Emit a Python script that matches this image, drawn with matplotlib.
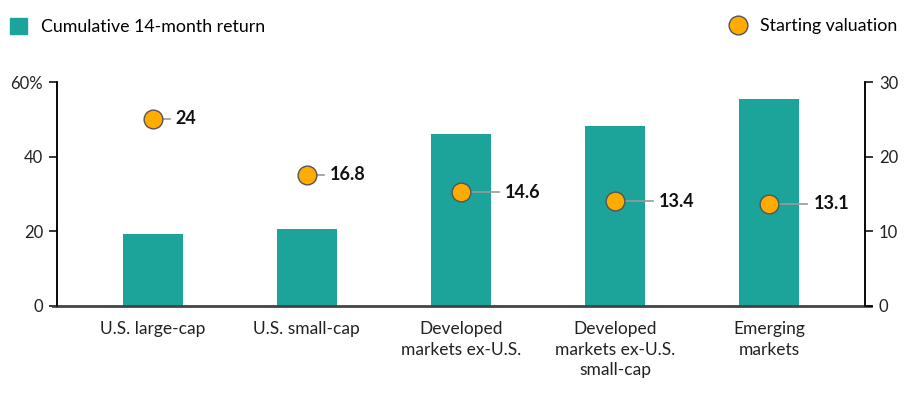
import matplotlib.pyplot as plt
from matplotlib.lines import Line2D
from matplotlib.patches import Patch

# Data
categories = ["U.S. large-cap", "U.S. small-cap", "Developed\nmarkets ex-U.S.",
              "Developed\nmarkets ex-U.S.\nsmall-cap", "Emerging\nmarkets"]
cum_return = [19.3, 20.6, 46.2, 48.1, 55.4]      # left axis, %
valuation = [24, 16.8, 14.6, 13.4, 13.1]         # right axis
val_labels = ["24", "16.8", "14.6", "13.4", "13.1"]

teal = "#1ca39a"
orange = "#ffab00"

plt.rcParams['font.family'] = ['Lato', 'DejaVu Sans']

fig = plt.figure(figsize=(9.13, 4.03), dpi=100)
ax1 = fig.add_axes([0.0624, 0.2407, 0.8850, 0.5558])
ax2 = ax1.twinx()
# the dots in the original sit on a slightly stretched scale (top ~28.7, not 30)
ax3 = ax1.twinx()
ax3.set_ylim(0, 28.7)
ax3.axis("off")

x = list(range(len(categories)))
barw = 0.39
ax1.bar(x, cum_return, width=barw, color=teal, zorder=2)

ax1.set_xlim(-0.62, 4.62)
ax1.set_ylim(0, 60)
ax2.set_ylim(0, 30)
ax1.set_yticks([0, 20, 40, 60])
ax1.set_yticklabels(["0", "20", "40", "60%"])
ax2.set_yticks([0, 10, 20, 30])

ax1.set_xticks(x)
ax1.set_xticklabels(categories, fontsize=12.5, color="#222222", linespacing=1.35, va="top")
ax1.tick_params(axis="x", length=0, pad=11)
ax1.tick_params(axis="y", length=6, width=1.1, labelsize=12, labelcolor="#222222", pad=4)
ax2.tick_params(axis="y", length=6, width=1.1, labelsize=12, labelcolor="#222222", pad=4)

for a in (ax1, ax2):
    a.spines["top"].set_visible(False)
    a.spines["bottom"].set_visible(False)
    a.spines["left"].set_linewidth(1.1)
    a.spines["right"].set_linewidth(1.1)

# bottom baseline sticking out a bit past both spines
ax1.add_line(Line2D([-0.005, 1.008], [0, 0], transform=ax1.transAxes, color="#444444",
                    lw=2, clip_on=False, zorder=5))

# valuation dots with leader lines and labels
for i, v in enumerate(valuation):
    inside = v * 2 < cum_return[i]
    lead = 0.245 if inside else 0.11
    ax3.plot([i, i + lead], [v, v], color="#9a9a9a", lw=1.2, zorder=3)
    ax3.plot(i, v, "o", ms=13.5, mfc=orange, mec="#555555", mew=1.0, zorder=4)
    ax3.text(i + lead + 0.04, v, val_labels[i], fontsize=13, fontweight="bold",
             color="#111111", va="center", ha="left", zorder=5)

# legends at the top
h1 = [Patch(facecolor=teal, edgecolor=teal)]
fig.legend(h1, ["Cumulative 14-month return"], loc="upper left", bbox_to_anchor=(-0.003, 0.985),
           frameon=False, fontsize=12.8, handlelength=0.95, handleheight=0.95, handletextpad=0.8,
           borderaxespad=0.3)
h2 = [Line2D([], [], ls="", marker="o", ms=13.5, mfc=orange, mec="#555555", mew=1.0)]
fig.legend(h2, ["Starting valuation"], loc="upper right", bbox_to_anchor=(0.996, 0.985),
           frameon=False, fontsize=12.8, handletextpad=0.2, borderaxespad=0.3)

fig.savefig("out.png", dpi=100)
